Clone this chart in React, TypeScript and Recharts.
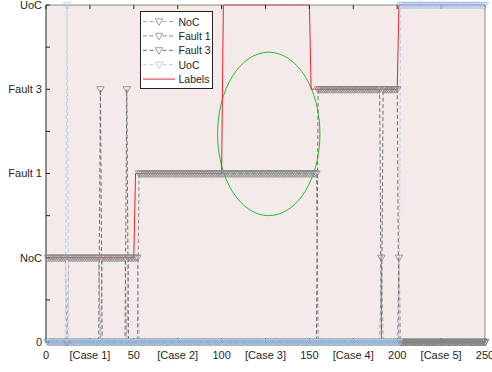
import {
  LineChart, Line, XAxis, YAxis, CartesianGrid, ReferenceArea, Legend,
} from 'recharts';

/* ── Data ────────────────────────────────────────────────────────────────── */

const xTicks = [0, 25, 50, 75, 100, 125, 150, 175, 200, 225, 250];
const xTickLabels = ['0', '[Case 1]', '50', '[Case 2]', '100', '[Case 3]', '150', '[Case 4]', '200', '[Case 5]', '250'];

const yTicks = [0, 0.5, 1, 1.5, 2, 2.5, 3, 3.5, 4];
const yTickLabels = ['0', '', 'NoC', '', 'Fault 1', '', 'Fault 3', '', 'UoC'];

// class name -> level on the y axis
const classNames = ['NoC', 'Fault 1', 'Fault 3', 'UoC'];
const classLevels = [1, 2, 3, 4];

// runs of samples: [first sample, last sample, class level]
const labelRuns = [
  [1, 50, 1],
  [51, 100, 2],
  [101, 150, 4],
  [151, 200, 3],
  [201, 250, 4],
];

const predictedRuns = [
  [1, 11, 1],
  [12, 12, 4],
  [13, 30, 1],
  [31, 31, 3],
  [32, 45, 1],
  [46, 46, 3],
  [47, 52, 1],
  [53, 154, 2],
  [155, 190, 3],
  [191, 191, 1],
  [192, 200, 3],
  [201, 201, 1],
  [202, 250, 4],
];

// highlighted region (data coordinates)
const ellipseX = [97.7, 156];
const ellipseY = [1.5, 3.44];

/* ── Table ───────────────────────────────────────────────────────────────── */

const levelAt = (runs: number[][], i: number) =>
  runs.find(r => i >= r[0] && i <= r[1])?.[2] ?? 0;

const lastSample = labelRuns[labelRuns.length - 1][1];
const table: Record<string, number>[] = [];
for (let i = 1; i <= lastSample; i++) {
  const pred = levelAt(predictedRuns, i);
  const row: Record<string, number> = { x: i, Labels: levelAt(labelRuns, i) };
  classNames.forEach((name, k) => {
    row[name] = pred === classLevels[k] ? classLevels[k] : 0;
  });
  table.push(row);
}

/* ── Styles ──────────────────────────────────────────────────────────────── */

const FONT = '"Liberation Sans", Arial, sans-serif';
const TEXT = '#262626';
const BG = '#f4eae9';
const AXIS_DARK = '#262626';
const AXIS_GRAY = '#8a8a8a';

const SERIES = [
  { key: 'NoC',     line: '#a8a8a8', marker: '#8c8c8c' },
  { key: 'Fault 1', line: '#8a8a8a', marker: '#8c8c8c' },
  { key: 'Fault 3', line: '#6e6e6e', marker: '#858585' },
  { key: 'UoC',     line: '#b8d2f0', marker: '#a8c6ec' },
];
const RED = '#e8232a';
const GREEN = '#22c02a';

/* ── Marker ──────────────────────────────────────────────────────────────── */

function triPoints(cx: number, cy: number) {
  return `${cx - 3.7},${cy - 2.6} ${cx + 3.7},${cy - 2.6} ${cx},${cy + 4}`;
}

const makeDot = (stroke: string) => (p: any) => {
  if (p.cx == null || p.cy == null) return <g key={p.index} />;
  return (
    <polygon key={p.index} points={triPoints(p.cx, p.cy)} fill="none" stroke={stroke} strokeWidth={0.8} />
  );
};

/* ── Legend ──────────────────────────────────────────────────────────────── */

function LegendBox() {
  const rows = [...SERIES.map(s => ({ ...s, label: s.key, dashed: true })), { key: 'Labels', line: RED, marker: '', label: 'Labels', dashed: false }];
  return (
    <svg width={73} height={78} style={{ display: 'block' }}>
      <rect x={0.5} y={0.5} width={72} height={77} fill="#fff" stroke="#222" strokeWidth={1} />
      {rows.map((r, i) => {
        const y = 10.5 + i * 14.4;
        return (
          <g key={r.key}>
            <line x1={3} x2={35} y1={y} y2={y} stroke={r.line} strokeWidth={1} strokeDasharray={r.dashed ? '4 2.5' : undefined} />
            {r.marker && <polygon points={triPoints(19, y)} fill="#fff" stroke={r.marker} strokeWidth={0.8} />}
            <text x={38.5} y={y + 4} fontSize={10.5} fill={TEXT} fontFamily={FONT}>{r.label}</text>
          </g>
        );
      })}
    </svg>
  );
}

/* ── Chart ───────────────────────────────────────────────────────────────── */

export default function App() {
  const tickStyle = { fontSize: 11, fill: TEXT, fontFamily: FONT };
  return (
    <div style={{ position: 'absolute', left: 0, top: 0, width: 492, height: 372, background: '#fff' }}>
      <LineChart width={492} height={372} data={table} margin={{ top: 4, right: 0, left: 0, bottom: 0 }}>
        <CartesianGrid fill={BG} horizontal={false} vertical={false} />
        <XAxis
          dataKey="x"
          type="number"
          domain={[0, 250]}
          ticks={xTicks}
          interval={0}
          height={30}
          tick={tickStyle}
          tickFormatter={(v: number) => xTickLabels[xTicks.indexOf(v)] ?? ''}
          tickSize={-4}
          tickMargin={13}
          axisLine={{ stroke: AXIS_DARK }}
          tickLine={{ stroke: AXIS_DARK }}
        />
        <XAxis
          xAxisId="t"
          orientation="top"
          dataKey="x"
          type="number"
          domain={[0, 250]}
          ticks={xTicks}
          interval={0}
          height={1}
          tickFormatter={() => ''}
          tickSize={-4}
          axisLine={{ stroke: AXIS_GRAY }}
          tickLine={{ stroke: AXIS_DARK }}
        />
        <YAxis
          type="number"
          domain={[0, 4]}
          ticks={yTicks}
          interval={0}
          width={46}
          tick={tickStyle}
          tickFormatter={(v: number) => yTickLabels[yTicks.indexOf(v)] ?? ''}
          tickSize={-4}
          tickMargin={8}
          axisLine={{ stroke: AXIS_DARK }}
          tickLine={{ stroke: AXIS_DARK }}
        />
        <YAxis
          yAxisId="r"
          orientation="right"
          type="number"
          domain={[0, 4]}
          ticks={yTicks}
          interval={0}
          width={7}
          tickFormatter={() => ''}
          tickSize={-4}
          axisLine={{ stroke: AXIS_GRAY }}
          tickLine={{ stroke: AXIS_DARK }}
        />

        {SERIES.map(s => (
          <Line
            key={s.key}
            dataKey={s.key}
            name={s.key}
            type="linear"
            stroke={s.line}
            strokeWidth={1}
            strokeDasharray="4 2.5"
            dot={makeDot(s.marker)}
            activeDot={false}
            isAnimationActive={false}
          />
        ))}
        <Line
          dataKey="Labels"
          name="Labels"
          type="linear"
          stroke={RED}
          strokeWidth={1}
          dot={false}
          activeDot={false}
          isAnimationActive={false}
        />

        <ReferenceArea
          x1={ellipseX[0]}
          x2={ellipseX[1]}
          y1={ellipseY[0]}
          y2={ellipseY[1]}
          shape={(p: any) => (
            <ellipse
              cx={p.x + p.width / 2}
              cy={p.y + p.height / 2}
              rx={Math.abs(p.width) / 2}
              ry={Math.abs(p.height) / 2}
              fill="none"
              stroke={GREEN}
              strokeWidth={1}
            />
          )}
        />

        <Legend
          layout="vertical"
          align="center"
          verticalAlign="middle"
          content={() => <LegendBox />}
          wrapperStyle={{ position: 'absolute', left: 140, top: 11, width: 73, height: 78 }}
        />
      </LineChart>
    </div>
  );
}
